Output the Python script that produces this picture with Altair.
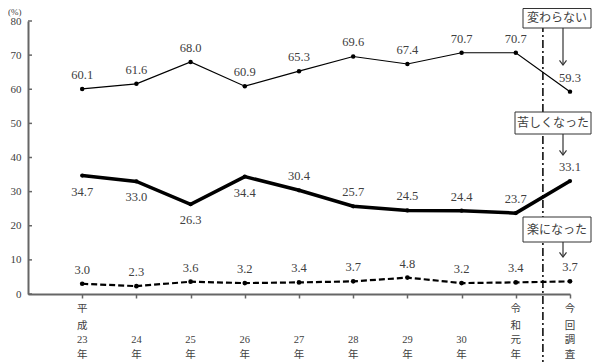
import altair as alt
import pandas as pd

# ---- data ----
periods = ["平成23年", "24年", "25年", "26年", "27年", "28年", "29年", "30年", "令和元年", "今回調査"]
period_lines = [
    ["平", "成", "23", "年"], ["", "", "24", "年"], ["", "", "25", "年"], ["", "", "26", "年"],
    ["", "", "27", "年"], ["", "", "28", "年"], ["", "", "29", "年"], ["", "", "30", "年"],
    ["令", "和", "元", "年"], ["今", "回", "調", "査"],
]
kawaranai = [60.1, 61.6, 68.0, 60.9, 65.3, 69.6, 67.4, 70.7, 70.7, 59.3]
kurushiku = [34.7, 33.0, 26.3, 34.4, 30.4, 25.7, 24.5, 24.4, 23.7, 33.1]
rakuni = [3.0, 2.3, 3.6, 3.2, 3.4, 3.7, 4.8, 3.2, 3.4, 3.7]
kurushiku_label_side = ["below", "below", "below", "below", "above", "above", "above", "above", "above", "above"]
y_ticks = [0, 10, 20, 30, 40, 50, 60, 70, 80]

W, H = 542, 273
NUM_FONT = "Liberation Serif, Noto Sans CJK JP"
JP_FONT = "Noto Sans CJK JP"
TXT = "#404040"
AX = "#666666"
ROW_Y = [288, 305, 319, 334]  # plot-area y of the 4 rows of the period labels

idx = list(range(1, len(periods) + 1))


def frame(vals, name):
    return pd.DataFrame({"idx": idx, "value": vals, "series": name,
                         "label": [f"{v:.1f}" for v in vals]})


df_k = frame(kawaranai, "変わらない")
df_c = frame(kurushiku, "苦しくなった")
df_c["side"] = kurushiku_label_side
df_r = frame(rakuni, "楽になった")

xscale = alt.Scale(domain=[0, 10], nice=False, zero=False)
yscale = alt.Scale(domain=[0, 80], nice=False, zero=True)

x_axis = alt.Axis(values=idx, labels=False, grid=False,
                  domainColor=AX, domainWidth=2, tickColor=AX, tickSize=4,
                  tickWidth=1.5)
y_axis = alt.Axis(values=y_ticks, grid=False, ticks=False, tickSize=0,
                  domainColor=AX, domainWidth=2, labelPadding=7,
                  labelFont=NUM_FONT, labelFontSize=11, labelColor=TXT)

xq = alt.X("idx:Q", scale=xscale, title=None, axis=x_axis)
yq = alt.Y("value:Q", scale=yscale, title=None, axis=y_axis)

# lines
line_k = alt.Chart(df_k).mark_line(color="black", strokeWidth=1.2).encode(x=xq, y=yq)
pts_k = alt.Chart(df_k).mark_point(filled=True, color="black", size=20, opacity=1).encode(x=xq, y=yq)
line_c = alt.Chart(df_c).mark_line(color="black", strokeWidth=3.5).encode(x=xq, y=yq)
pts_c = alt.Chart(df_c).mark_point(filled=True, color="black", size=18, opacity=1).encode(x=xq, y=yq)
line_r = alt.Chart(df_r).mark_line(color="black", strokeWidth=2.2, strokeDash=[6, 3]).encode(x=xq, y=yq)
pts_r = alt.Chart(df_r).mark_point(filled=True, color="black", size=22, opacity=1).encode(x=xq, y=yq)

# value labels
lab_style = dict(font=NUM_FONT, fontSize=12.5, color=TXT, baseline="middle", align="center")
lab_k = alt.Chart(df_k).mark_text(dy=-14, **lab_style).encode(x=xq, y=yq, text="label:N")
lab_c_above = alt.Chart(df_c).transform_filter("datum.side == 'above'").mark_text(dy=-14, **lab_style).encode(x=xq, y=yq, text="label:N")
lab_c_below = alt.Chart(df_c).transform_filter("datum.side == 'below'").mark_text(dy=16, **lab_style).encode(x=xq, y=yq, text="label:N")
lab_r = alt.Chart(df_r).mark_text(dy=-14, **lab_style).encode(x=xq, y=yq, text="label:N")

# vertical period labels (one text layer per row)
period_layers = []
for r, ry in enumerate(ROW_Y):
    rdf = pd.DataFrame({"idx": idx, "t": [pl[r] for pl in period_lines]})
    rdf = rdf[rdf["t"] != ""]
    period_layers.append(alt.Chart(rdf).mark_text(
        font=NUM_FONT, fontSize=10.5, color=TXT, align="center", baseline="middle").encode(
        x=xq, y=alt.value(ry), text="t:N"))

# y ticks pointing inward
ytick_df = pd.DataFrame({"value": y_ticks})
yticks = alt.Chart(ytick_df).mark_rule(color=AX, strokeWidth=1.5).encode(
    y=yq, x=alt.value(0), x2=alt.value(4))

# dash-dot separator between 令和元年 and 今回調査
sep = alt.Chart(pd.DataFrame({"idx": [9.5]})).mark_rule(
    color="black", strokeWidth=1.5, strokeDash=[8, 3, 2, 3]).encode(
    x=xq, y=alt.value(-13), y2=alt.value(H + 68))

# percent unit
unit = alt.Chart(pd.DataFrame({"t": ["(%)"]})).mark_text(
    font=NUM_FONT, fontSize=9, color=TXT, align="left", baseline="top").encode(
    x=alt.value(-20), y=alt.value(-13), text="t:N")

# annotation boxes with arrows (plot-area pixel positions)
boxes = pd.DataFrame({
    "name": ["変わらない", "苦しくなった", "楽になった"],
    "x1": [495, 487, 495], "x2": [563, 563, 563],
    "y1": [-12.5, 91, 196], "y2": [7, 113, 221],
    "tx": [529, 525, 529],
    "ay1": [7, 113, 221], "ay2": [44, 134, 236],
})
annots = []
for _, b in boxes.iterrows():
    one = pd.DataFrame([b])
    annots.append(alt.Chart(one).mark_rect(fill="white", stroke="#333333", strokeWidth=1).encode(
        x=alt.value(b.x1), x2=alt.value(b.x2), y=alt.value(b.y1), y2=alt.value(b.y2)))
    annots.append(alt.Chart(one).mark_text(font=JP_FONT, fontSize=12, color=TXT,
                                           align="center", baseline="middle").encode(
        x=alt.value(b.tx), y=alt.value((b.y1 + b.y2) / 2), text="name:N"))
    annots.append(alt.Chart(one).mark_rule(color="#333333", strokeWidth=1.2).encode(
        x=alt.value(535), y=alt.value(b.ay1), y2=alt.value(b.ay2)))
    annots.append(alt.Chart(one).mark_point(shape="M-1,-1.3L0,0L1,-1.3", filled=False,
                                            stroke="#333333", strokeWidth=1.2, size=49,
                                            opacity=1).encode(
        x=alt.value(535), y=alt.value(b.ay2)))

chart = alt.layer(
    line_k, sep, yticks, line_c, line_r, pts_k, pts_c, pts_r,
    lab_k, lab_c_above, lab_c_below, lab_r, *period_layers, unit, *annots
).properties(
    width=W, height=H,
    padding={"left": 20, "top": 13, "right": 22, "bottom": 68},
    autosize=alt.AutoSizeParams(type="none"),
    background="white",
).configure_view(stroke=None)

chart.save("out.html", embed_options={"renderer": "svg", "actions": False})
